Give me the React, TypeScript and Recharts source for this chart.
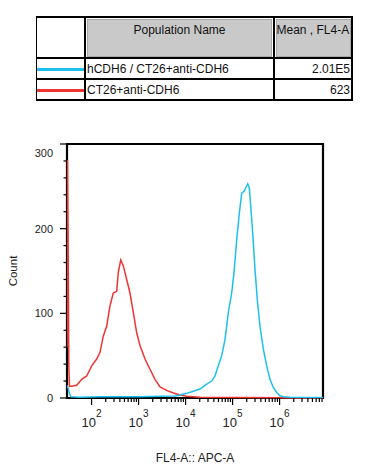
import { LineChart, Line, XAxis, YAxis, ReferenceArea } from "recharts"

const redLog = [
  1.477, 1.488, 1.503, 1.515, 1.53, 1.577, 1.683, 1.79, 1.896, 2.003, 2.109, 2.179, 2.249,
  2.322, 2.392, 2.462, 2.534, 2.568, 2.62, 2.675, 2.747, 2.817, 2.888, 2.96, 3.03, 3.137,
  3.243, 3.349, 3.456, 3.598, 3.739, 3.881, 4.024, 4.307, 5.158, 6.009, 6.434, 6.924,
]
const redCount = [
  60, 281, 167, 40, 14, 14, 15, 22, 26, 38, 46, 54, 73, 85, 109, 124, 126, 148, 163, 156, 140,
  124, 101, 77, 62, 46, 34, 22, 13, 9, 6, 3.5, 2, 1, 0.5, 0.3, 0, 0,
]

const blueLog = [
  1.477, 1.498, 1.53, 1.562, 1.754, 2.179, 2.605, 3.03, 3.456, 3.775, 3.881, 4.024, 4.164,
  4.307, 4.449, 4.556, 4.626, 4.696, 4.768, 4.839, 4.909, 4.981, 5.03, 5.088, 5.143, 5.194,
  5.243, 5.279, 5.322, 5.356, 5.392, 5.428, 5.477, 5.526, 5.583, 5.654, 5.726, 5.796, 5.866,
  5.939, 6.009, 6.079, 6.222, 6.924,
]
const blueCount = [
  15, 12, 5, 1.5, 1, 1.5, 1.5, 1.5, 2, 2.5, 3.5, 5.5, 8, 10.6, 16.5, 20, 26, 38, 50, 69, 101,
  124, 148, 187, 218, 242, 244, 248, 253, 248, 222, 195, 152, 116, 85, 58, 38, 22, 12.5, 6.5,
  2.7, 1.5, 0.8, 0.5,
]

const populations = ["hCDH6 / CT26+anti-CDH6", "CT26+anti-CDH6"]
const means = ["2.01E5", "623"]
const populationColors = ["#1cc0ee", "#f03434"]

const xMajor = [100, 1000, 10000, 100000, 1000000]
const xMinorSteps = [2, 3, 4, 5, 6, 7, 8, 9]
const yTicks = [0, 20, 40, 60, 80, 100, 120, 140, 160, 180, 200, 220, 240, 260, 280, 300]
const xDomain = [30, 8388608]

const xTicks = [
  ...xMajor,
  ...xMajor.flatMap((d) => xMinorSteps.map((m) => d * m)).filter((v) => v < xDomain[1]),
].sort((a, b) => a - b)

const redData = redLog.map((e, i) => ({ x: 10 ** e, count: redCount[i] }))
const blueData = blueLog.map((e, i) => ({ x: 10 ** e, count: blueCount[i] }))

function XTick({ x, y, payload }: any) {
  const v = payload.value
  const major = xMajor.includes(v)
  return (
    <g>
      <line x1={x} x2={x} y1={y} y2={y + (major ? 7 : 4)} stroke="#000" strokeWidth={1.2} />
      {major && (
        <text x={x} y={y + 28.5} textAnchor="middle" fontSize={13} fill="#222">
          10
          <tspan dy={-10} fontSize={10}>
            {Math.round(Math.log10(v))}
          </tspan>
        </text>
      )}
    </g>
  )
}

function YTick({ x, y, payload }: any) {
  const v = payload.value
  const major = v % 100 === 0
  return (
    <g>
      <line x1={x - (major ? 7 : 3.5)} x2={x} y1={y} y2={y} stroke="#000" strokeWidth={1.2} />
      {major && (
        <text x={x - 14} y={v === 300 ? y + 13 : y + 4} textAnchor="end" fontSize={11} fill="#222">
          {v}
        </text>
      )}
    </g>
  )
}

const line = (left: number, top: number, width: number, height: number) => (
  <div style={{ position: "absolute", left, top, width, height, background: "#000" }} />
)

export default function App() {
  return (
    <div
      style={{
        position: "absolute",
        left: 0,
        top: 0,
        width: 371,
        height: 474,
        background: "#fff",
        fontFamily: "'Liberation Sans', Arial, sans-serif",
        color: "#111",
      }}
    >
      {/* legend table */}
      <div style={{ position: "absolute", left: 87, top: 18.5, width: 183, height: 36, background: "#c9c9c9", border: "1px solid #a8a8a8" }} />
      <div style={{ position: "absolute", left: 275.5, top: 18.5, width: 73.5, height: 36, background: "#c9c9c9", border: "1px solid #a8a8a8" }} />
      {line(36, 16, 317, 2)}
      {line(36, 56.5, 317, 2)}
      {line(36, 78, 317, 2)}
      {line(36, 99, 317, 2)}
      {line(36, 16, 1, 85)}
      {line(84, 16, 2, 85)}
      {line(272.5, 16, 2, 85)}
      {line(351, 16, 2, 85)}
      <div style={{ position: "absolute", left: 87, width: 185, top: 23, fontSize: 12, lineHeight: "14px", textAlign: "center" }}>
        Population Name
      </div>
      <div style={{ position: "absolute", left: 276.5, top: 23, fontSize: 12, lineHeight: "14px", whiteSpace: "nowrap" }}>
        Mean , FL4-A
      </div>
      {populations.map((p, i) => (
        <div key={p}>
          <div style={{ position: "absolute", left: 37, top: 68 + i * 21, width: 47, height: 3, background: populationColors[i] }} />
          <div style={{ position: "absolute", left: 87, top: 62 + i * 21, fontSize: 12, lineHeight: "14px", whiteSpace: "nowrap" }}>
            {p}
          </div>
          <div style={{ position: "absolute", right: 21, top: 62 + i * 21, fontSize: 12, lineHeight: "14px", textAlign: "right" }}>
            {means[i]}
          </div>
        </div>
      ))}

      <LineChart width={371} height={474} margin={{ top: 144, right: 48, bottom: 0, left: 0 }}>
        <XAxis
          dataKey="x"
          type="number"
          scale="log"
          domain={xDomain}
          allowDataOverflow
          ticks={xTicks}
          interval={0}
          axisLine={false}
          tickLine={false}
          tickSize={0}
          tickMargin={0}
          tick={<XTick />}
          height={76}
          label={{
            content: () => (
              <text x={195} y={461.5} textAnchor="middle" fontSize={12} fill="#222">
                FL4-A:: APC-A
              </text>
            ),
          }}
        />
        <YAxis
          type="number"
          domain={[0, 300]}
          ticks={yTicks}
          interval={0}
          axisLine={false}
          tickLine={false}
          tickSize={0}
          tickMargin={0}
          tick={<YTick />}
          width={67}
          label={{
            content: () => (
              <text x={17} y={271} transform="rotate(-90 17 271)" textAnchor="middle" fontSize={11.5} fill="#222">
                Count
              </text>
            ),
          }}
        />
        <Line data={redData} dataKey="count" stroke={populationColors[1]} strokeWidth={1.5} dot={false} isAnimationActive={false} />
        <Line data={blueData} dataKey="count" stroke={populationColors[0]} strokeWidth={1.5} dot={false} isAnimationActive={false} />
        <ReferenceArea x1={xDomain[0]} x2={xDomain[1]} y1={0} y2={300} fill="none" stroke="#000" strokeWidth={2.2} ifOverflow="visible" />
      </LineChart>
    </div>
  )
}
